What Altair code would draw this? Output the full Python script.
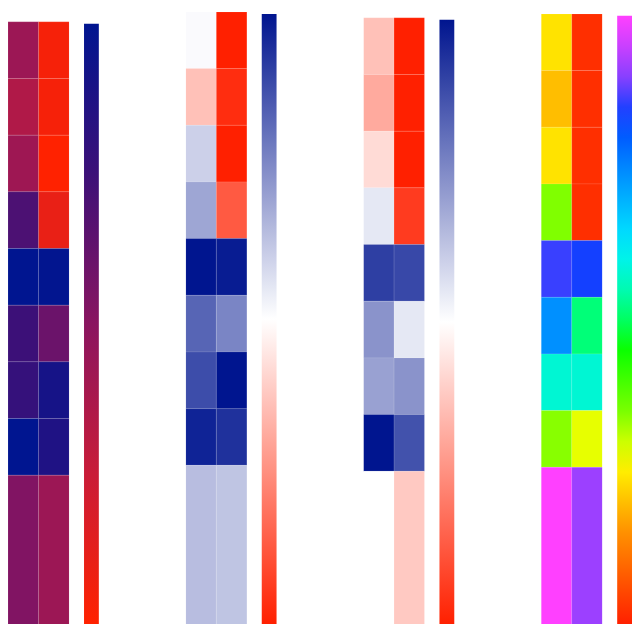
import altair as alt
import pandas as pd

# ---- data (normalised 0..1 per panel) ----
rows = list(range(9))
cols = [0, 1]

p1_c1 = [0.57, 0.65, 0.58, 0.30, 0.00, 0.25, 0.22, 0.00, 0.47]
p1_c2 = [0.96, 0.96, 1.00, 0.90, 0.01, 0.40, 0.09, 0.13, 0.57]

p2_c1 = [0.49, 0.64, 0.40, 0.31, 0.00, 0.17, 0.12, 0.03, 0.36]
p2_c2 = [1.00, 0.97, 1.00, 0.87, 0.015, 0.24, 0.00, 0.06, 0.375]

p3_c1 = [0.64, 0.69, 0.58, 0.45, 0.09, 0.27, 0.30, 0.00, 0.50]
p3_c2 = [1.00, 1.00, 1.00, 0.94, 0.11, 0.45, 0.27, 0.13, 0.62]

p4_c1 = [0.76, 0.80, 0.76, 0.655, 0.139, 0.26, 0.42, 0.66, 0.00]
p4_c2 = [0.98, 0.98, 0.98, 0.98, 0.157, 0.49, 0.42, 0.716, 0.09]

# colour maps (stops, colours) — low value first
cm1_dom = [0, 0.25, 0.5, 0.75, 1]
cm1_rng = ["#001590", "#3c1078", "#8a1560", "#c91c38", "#ff2200"]
cm2_dom = [0, 0.5, 1]
cm2_rng = ["#00158f", "#ffffff", "#ff2000"]
cm4_dom = [0, 0.088, 0.167, 0.26, 0.38, 0.48, 0.54, 0.655, 0.73, 0.85, 1]
cm4_rng = ["#ff40ff", "#a040ff", "#0040ff", "#0090ff", "#00f0ff", "#00ff90",
           "#00ff00", "#80ff00", "#ffff00", "#ff9000", "#ff2000"]

panels = [
    (p1_c1, p1_c2, cm1_dom, cm1_rng, 10),
    (p2_c1, p2_c2, cm2_dom, cm2_rng, 0),
    (p3_c1, p3_c2, cm2_dom, cm2_rng, 6),
    (p4_c1, p4_c2, cm4_dom, cm4_rng, 2),
]

H = 620
W = 62
ROW_PX = 57.4
N_VIS = 11  # visible row units (last row runs off the bottom)


def panel(c1, c2, dom, rng, off):
    recs = []
    for r in rows:
        for c, vals in zip(cols, (c1, c2)):
            recs.append({"row": r, "col": c, "value": vals[r],
                         "row_end": (r + 1) if r < rows[-1] else N_VIS})
    df = pd.DataFrame(recs)
    # colour bar drawn with low values at the top: colour by (1 - value)
    inv_dom = [round(1 - d, 4) for d in reversed(dom)]
    inv_rng = list(reversed(rng))
    return alt.Chart(df).transform_calculate(
        inv="1 - datum.value"
    ).mark_rect(
        clip=True, stroke="white", strokeWidth=0.5, strokeOpacity=0.2
    ).encode(
        x=alt.X("col:O", axis=None,
                scale=alt.Scale(paddingInner=0, paddingOuter=0)),
        y=alt.Y("row:Q", axis=None,
                scale=alt.Scale(domain=[0, N_VIS], range=[off, off + N_VIS * ROW_PX],
                                nice=False, zero=False)),
        y2="row_end:Q",
        color=alt.Color(
            "inv:Q",
            scale=alt.Scale(domain=inv_dom, range=inv_rng, interpolate="rgb"),
            legend=alt.Legend(
                orient="none", direction="vertical",
                legendX=W + 15, legendY=off + 2,
                gradientLength=H - off - 2, gradientThickness=15,
                gradientStrokeWidth=0, title=None,
                labelExpr="''", labelOpacity=0, padding=0,
                labelOffset=0,
            ),
        ),
    ).properties(width=W, height=H)


chart = alt.hconcat(*[panel(*p) for p in panels], spacing=88).resolve_scale(
    color="independent"
).properties(padding=0, background="white").configure_view(stroke=None)

chart.save("out.html", embed_options={"renderer": "svg", "actions": False})
